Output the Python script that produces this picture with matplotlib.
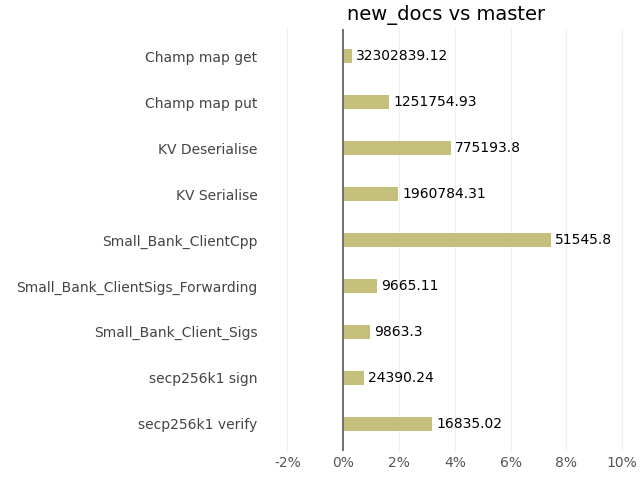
import matplotlib.pyplot as plt
import numpy as np

names = ["Champ map get", "Champ map put", "KV Deserialise", "KV Serialise",
         "Small_Bank_ClientCpp", "Small_Bank_ClientSigs_Forwarding",
         "Small_Bank_Client_Sigs", "secp256k1 sign", "secp256k1 verify"]
pct = [0.32, 1.64, 3.86, 1.96, 7.46, 1.21, 0.96, 0.75, 3.18]
labels = ["32302839.12", "1251754.93", "775193.8", "1960784.31", "51545.8",
          "9665.11", "9863.3", "24390.24", "16835.02"]
ticks = [-2, 0, 2, 4, 6, 8, 10]

fig, ax = plt.subplots(figsize=(6.4, 4.8), dpi=100)
fig.subplots_adjust(left=0.41, right=0.985, top=0.94, bottom=0.06)
y = np.arange(len(names))[::-1]
ax.barh(y, pct, height=0.3, color="#c4bf7b", zorder=2)
for yi, p, lab in zip(y, pct, labels):
    ax.text(p + 0.15, yi, lab, va="center", fontsize=10)
ax.axvline(0, color="#666666", lw=1.3, zorder=3)
ax.set_yticks(y)
ax.set_yticklabels(names, color="#444444")
ax.set_xticks(ticks)
ax.set_xticklabels([f"{t}%" for t in ticks], color="#555555")
ax.set_xlim(-2.9, 10.3)
ax.set_ylim(-0.6, 8.6)
ax.grid(axis="x", color="#eeeeee", lw=0.8, zorder=0)
for s in ax.spines.values():
    s.set_visible(False)
ax.tick_params(length=0, labelsize=10)
ax.set_title("new_docs vs master", fontsize=14)
fig.savefig("out.png")
